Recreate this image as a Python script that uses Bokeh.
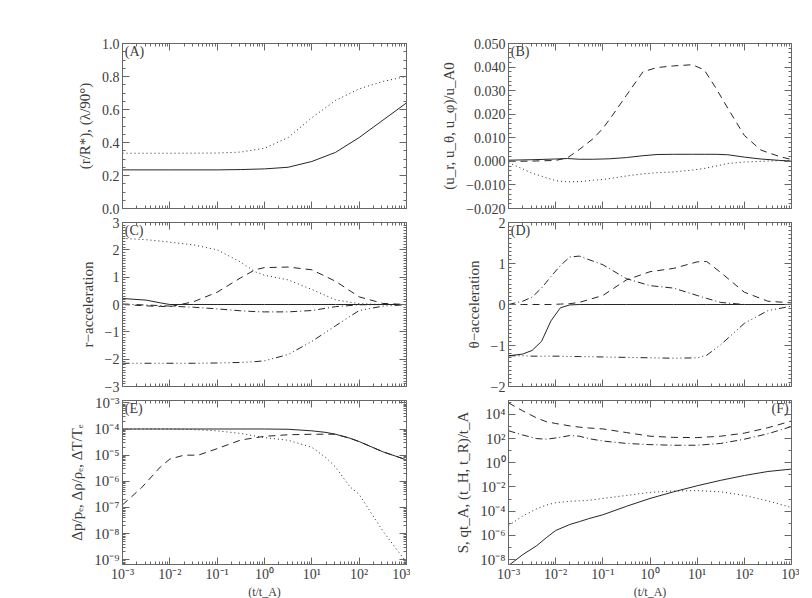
from bokeh.plotting import figure
from bokeh.layouts import column, row
from bokeh.models import (Range1d, LogAxis, LinearAxis, FixedTicker,
                          CustomJSTickFormatter, Label)
from bokeh.embed import file_html
from bokeh.resources import INLINE

# ---------------- data (x given as log10(t/t_A)) ----------------
a_t = [-3, -2, -1, -0.5, 0, 0.5, 1, 1.5, 2, 2.5, 3]
a_solid = [0.234, 0.234, 0.234, 0.236, 0.24, 0.25, 0.285, 0.34, 0.43, 0.535, 0.64]
a_dotted = [0.335, 0.335, 0.336, 0.342, 0.365, 0.43, 0.55, 0.655, 0.725, 0.77, 0.80]

b_t = [-3, -2.5, -2, -1.75, -1.5, -1.2, -1, -0.85, -0.5, -0.15, 0.15, 0.5, 0.9,
       1.15, 1.4, 1.65, 2, 2.35, 2.75, 3]
b_dashed = [0.0, 0.0001, 0.0004, 0.0015, 0.005, 0.0097, 0.014, 0.018, 0.028, 0.038,
            0.0398, 0.0405, 0.041, 0.0388, 0.031, 0.0225, 0.011, 0.0048, 0.002, 0.0008]
b_solid = [0.0005, 0.0007, 0.001, 0.0012, 0.0009, 0.0009, 0.001, 0.0011, 0.0016, 0.0024,
           0.0029, 0.003, 0.003, 0.003, 0.003, 0.0028, 0.0018, 0.001, 0.0004, 0.0001]
b_dotted = [-0.0005, -0.005, -0.0082, -0.0087, -0.0086, -0.008, -0.0077, -0.0073, -0.0062,
            -0.0053, -0.0048, -0.0045, -0.0037, -0.003, -0.002, -0.0009, -0.0003, 0.0,
            0.0003, 0.0003]

c_t = [-3, -2.5, -2.2, -2, -1.5, -1, -0.5, -0.2, 0, 0.5, 1, 1.5, 2, 2.5, 3]
c_solid = [0.22, 0.16, 0.06, 0.0, 0.0, 0.0, 0.0, 0.0, 0.0, 0.0, 0.0, 0.0, 0.0, 0.0, 0.0]
c_dotted = [2.42, 2.37, 2.32, 2.28, 2.18, 2.0, 1.55, 1.2, 1.07, 0.9, 0.55, 0.17, 0.03, 0.0, 0.0]
c_dashed = [0.0, -0.05, -0.07, -0.08, 0.1, 0.45, 0.98, 1.27, 1.35, 1.37, 1.27, 0.85, 0.28,
            0.04, 0.0]
c_dashdot = [0.02, -0.02, -0.04, -0.06, -0.1, -0.16, -0.23, -0.26, -0.27, -0.27, -0.22,
             -0.08, -0.01, 0.0, 0.0]
c_dashdot3 = [-2.15, -2.15, -2.15, -2.15, -2.15, -2.14, -2.12, -2.09, -2.06, -1.83, -1.35,
              -0.78, -0.22, -0.06, -0.01]

d_t = [-3, -2.7, -2.5, -2.3, -2.1, -1.9, -1.7, -1.5, -1.0, -0.5, 0, 0.5, 1.0, 1.2, 1.5,
       2, 2.5, 3]
d_dashdot = [0.0, 0.08, 0.18, 0.40, 0.68, 0.95, 1.16, 1.18, 0.97, 0.63, 0.46, 0.4, 0.22,
             0.15, 0.05, 0.0, 0.0, 0.0]
d_dashed = [0.0, 0.0, 0.0, 0.0, 0.0, 0.01, 0.02, 0.05, 0.22, 0.6, 0.8, 0.88, 1.04, 1.05,
            0.78, 0.3, 0.08, 0.04]
d_solid = [-1.25, -1.21, -1.12, -0.9, -0.4, -0.08, -0.01, 0.0, 0.0, 0.0, 0.0, 0.0, 0.0,
           0.0, 0.0, 0.0, 0.0, 0.0]
d_dashdot3 = [-1.25, -1.25, -1.26, -1.26, -1.26, -1.26, -1.27, -1.27, -1.28, -1.29, -1.3,
              -1.31, -1.3, -1.24, -0.98, -0.46, -0.15, -0.04]

e_t = [-3, -2.6, -2.2, -2.0, -1.7, -1.4, -1.0, -0.5, 0, 0.5, 1.0, 1.3, 1.5, 1.8, 2.0, 2.5, 3]
e_solid_log = [-4.0, -4.0, -4.0, -4.0, -4.0, -4.0, -4.0, -4.0, -4.0, -4.01, -4.07, -4.13,
               -4.2, -4.35, -4.48, -4.87, -5.18]
e_dotted_log = [-4.0, -4.0, -4.0, -4.0, -4.01, -4.03, -4.07, -4.17, -4.33, -4.43, -4.7,
                -5.1, -5.45, -6.2, -6.5, -7.9, -9.1]
e_dashed_log = [-6.9, -6.25, -5.45, -5.15, -5.0, -5.0, -4.75, -4.42, -4.28, -4.22, -4.2,
                -4.2, -4.2, -4.35, -4.48, -4.87, -5.18]

f_t = [-3, -2.7, -2.4, -2.2, -2.0, -1.7, -1.5, -1.3, -1.0, -0.5, 0, 0.5, 1.0, 1.5, 2.0, 2.5, 3]
f_dashed_log = [4.95, 4.3, 3.7, 3.4, 3.25, 3.05, 2.95, 2.88, 2.8, 2.5, 2.2, 2.1, 2.08, 2.2,
                2.45, 2.9, 3.45]
f_dashdot_log = [2.65, 2.3, 2.0, 1.95, 2.05, 2.25, 2.2, 2.0, 1.8, 1.6, 1.5, 1.45, 1.45, 1.6,
                 1.95, 2.4, 3.0]
f_dotted_log = [-5.2, -4.4, -3.8, -3.5, -3.3, -3.18, -3.15, -3.1, -2.95, -2.7, -2.45, -2.33,
                -2.3, -2.4, -2.7, -3.15, -3.7]
f_solid_log = [-8.5, -7.6, -6.85, -6.2, -5.6, -5.1, -4.87, -4.62, -4.3, -3.6, -2.95, -2.4,
               -1.9, -1.45, -1.05, -0.72, -0.52]

x_major = [1e-3, 1e-2, 1e-1, 1e0, 1e1, 1e2, 1e3]
x_minor = [m * d for d in [1e-3, 1e-2, 1e-1, 1e0, 1e1, 1e2] for m in range(2, 10)]

# ---------------- style ----------------
FONT = "Liberation Serif"
LINE = "#262626"
AXC = "#666666"
TXT = "#3c3c3c"
DASH = {"solid": "solid", "dotted": "1 3", "dashed": "7 5",
        "dashdot": "7 3 1 3", "dashdot3": "7 3 1 3 1 3 1 3"}

SUP_JS = """
const s = {'-':'\\u207b','0':'\\u2070','1':'\\u00b9','2':'\\u00b2','3':'\\u00b3',
           '4':'\\u2074','5':'\\u2075','6':'\\u2076','7':'\\u2077','8':'\\u2078','9':'\\u2079'};
const e = Math.round(Math.log10(tick));
return '10' + String(e).split('').map(c => s[c]).join('');
"""
EMPTY_JS = "return '';"


def lin_fmt(dec):
    return ("const v = Math.abs(tick) < 1e-9 ? 0 : tick;"
            f"return v.toFixed({dec}).replace('-', '\\u2212');")


def style_axis(ax, labels, size="14px"):
    ax.major_tick_in = 7
    ax.major_tick_out = 0
    ax.minor_tick_in = 3
    ax.minor_tick_out = 0
    ax.axis_line_color = AXC
    ax.major_tick_line_color = AXC
    ax.minor_tick_line_color = AXC
    ax.major_label_text_font = FONT
    ax.major_label_text_color = TXT
    if labels:
        ax.major_label_text_font_size = size
        ax.major_label_standoff = 3
    else:
        ax.major_label_text_font_size = "0px"
        ax.major_label_standoff = 0
    ax.axis_label_text_font = FONT
    ax.axis_label_text_font_size = "15px"
    ax.axis_label_text_font_style = "normal"
    ax.axis_label_text_color = TXT


def panel(ylog, yr, yticks, yminor, yfmt, ylabel, tag, left_col, row_idx, tag_xy,
          tag_right=False):
    bl = 122 if left_col else 98
    br = 4 if left_col else 8
    bt = {0: 43, 1: 7, 2: 7}[row_idx]
    bb = {0: 7, 1: 7, 2: 34}[row_idx]
    fh = {0: 165, 1: 164, 2: 164}[row_idx]
    p = figure(x_axis_type="log", y_axis_type="log" if ylog else "linear",
               x_range=Range1d(1e-3, 1e3), y_range=Range1d(*yr),
               frame_width=284 if left_col else 283, frame_height=fh,
               min_border_left=bl, min_border_right=br, min_border_top=bt,
               min_border_bottom=bb, x_axis_location=None, y_axis_location=None,
               toolbar_location=None, output_backend="svg")
    p.grid.visible = False
    p.outline_line_color = AXC
    XA = LogAxis
    YA = LogAxis if ylog else LinearAxis
    for side in ("below", "above"):
        lab = side == "below" and row_idx == 2
        ax = XA(ticker=FixedTicker(ticks=x_major, minor_ticks=x_minor),
                formatter=CustomJSTickFormatter(code=SUP_JS if lab else EMPTY_JS))
        style_axis(ax, lab, "14px")
        if lab:
            ax.major_label_standoff = 2
            ax.axis_label = "(t/t_A)"
            ax.axis_label_standoff = 0
            ax.axis_label_text_font_size = "12px"
        p.add_layout(ax, side)
    for side in ("left", "right"):
        lab = side == "left"
        ax = YA(ticker=FixedTicker(ticks=yticks, minor_ticks=yminor),
                formatter=CustomJSTickFormatter(code=yfmt if lab else EMPTY_JS))
        style_axis(ax, lab, "15px" if ylog else "14px")
        if lab:
            ax.axis_label = ylabel
            ax.axis_label_standoff = 6
        p.add_layout(ax, side)
    p.add_layout(Label(x=tag_xy[0], y=tag_xy[1], text=tag, text_font=FONT,
                       text_font_size="14px", text_color=TXT, text_baseline="top",
                       text_align="right" if tag_right else "left"))
    return p


def draw(p, t, ys, dash, logy=False):
    xs = [10.0 ** v for v in t]
    yy = [10.0 ** v for v in ys] if logy else ys
    p.line(xs, yy, line_color=LINE, line_width=1, line_dash=DASH[dash])


def frange(a, b, s):
    n = int(round((b - a) / s))
    return [round(a + i * s, 6) for i in range(n + 1)]


# (A)
pA = panel(False, (0.0, 1.0), frange(0, 1, 0.2), frange(0, 1, 0.05), lin_fmt(1),
           "(r/R*), (λ/90°)", "(A)", True, 0, (1.12e-3, 0.995))
draw(pA, a_t, a_solid, "solid")
draw(pA, a_t, a_dotted, "dotted")

# (B)
pB = panel(False, (-0.02, 0.05), frange(-0.02, 0.05, 0.01), frange(-0.02, 0.05, 0.002),
           lin_fmt(3), "(u_r, u_θ, u_φ)/u_A0", "(B)", False, 0, (1.12e-3, 0.0497))
draw(pB, b_t, b_solid, "solid")
draw(pB, b_t, b_dotted, "dotted")
draw(pB, b_t, b_dashed, "dashed")

# (C)
pC = panel(False, (-3, 3), frange(-3, 3, 1), frange(-3, 3, 0.1), lin_fmt(0),
           "r\u2212acceleration", "(C)", True, 1, (1.12e-3, 2.97))
draw(pC, c_t, c_solid, "solid")
draw(pC, c_t, c_dotted, "dotted")
draw(pC, c_t, c_dashed, "dashed")
draw(pC, c_t, c_dashdot, "dashdot")
draw(pC, c_t, c_dashdot3, "dashdot3")

# (D)
pD = panel(False, (-2, 2), frange(-2, 2, 1), frange(-2, 2, 0.1), lin_fmt(0),
           "θ\u2212acceleration", "(D)", False, 1, (1.12e-3, 1.98))
draw(pD, d_t, d_solid, "solid")
draw(pD, d_t, d_dashed, "dashed")
draw(pD, d_t, d_dashdot, "dashdot")
draw(pD, d_t, d_dashdot3, "dashdot3")

# (E)
e_major = [1e-9, 1e-8, 1e-7, 1e-6, 1e-5, 1e-4, 1e-3]
e_minor = [m * d for d in [1e-10, 1e-9, 1e-8, 1e-7, 1e-6, 1e-5, 1e-4] for m in range(2, 10)]
pE = panel(True, (10 ** -9.18, 10 ** -2.91), e_major, e_minor, SUP_JS,
           "Δp/pₑ, Δρ/ρₑ, ΔT/Tₑ", "(E)", True, 2, (1.12e-3, 10 ** -2.94))
draw(pE, e_t, e_solid_log, "solid", True)
draw(pE, e_t, e_dotted_log, "dotted", True)
draw(pE, e_t, e_dashed_log, "dashed", True)

# (F)
f_major = [1e-8, 1e-6, 1e-4, 1e-2, 1e0, 1e2, 1e4]
f_minor = [1e-9, 1e-7, 1e-5, 1e-3, 1e-1, 1e1, 1e3, 1e5]
pF = panel(True, (10 ** -8.41, 10 ** 5.15), f_major, f_minor, SUP_JS,
           "S, qt_A, (t_H, t_R)/t_A", "(F)", False, 2, (8.7e2, 10 ** 5.08), tag_right=True)
draw(pF, f_t, f_solid_log, "solid", True)
draw(pF, f_t, f_dotted_log, "dotted", True)
draw(pF, f_t, f_dashed_log, "dashed", True)
draw(pF, f_t, f_dashdot_log, "dashdot", True)

layout = column(row(pA, pB), row(pC, pD), row(pE, pF))
open("out.html", "w").write(file_html(layout, INLINE))
